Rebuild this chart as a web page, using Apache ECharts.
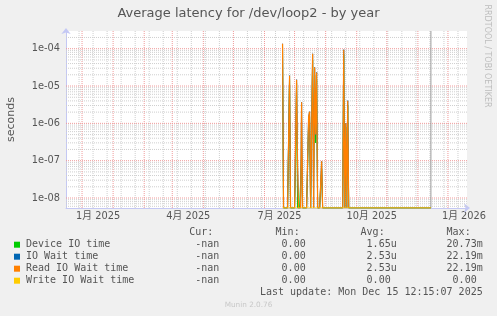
<!DOCTYPE html>
<html><head><meta charset="utf-8">
<script src="https://cdn.jsdelivr.net/npm/echarts@6/dist/echarts.min.js"></script>
<style>html,body{margin:0;padding:0;background:#f0f0f0;}#c{width:497px;height:316px;}</style>
</head><body><div id="c"></div>
<script>
// ---------- data ----------
const chartTitle = 'Average latency for /dev/loop2 - by year';
const yAxisName = 'seconds';
const startDate = '2024-11-15';
const dayCount = 401;
const dataStart = '2025-06-19';
const dataEnd = '2025-11-14';
const ruleDate = '2025-11-14';
const spikeDates = ['2025-06-19','2025-06-26','2025-07-02','2025-07-03','2025-07-04','2025-07-08','2025-07-15','2025-07-16','2025-07-19','2025-07-20','2025-07-21','2025-07-22','2025-07-23','2025-07-28','2025-08-19','2025-08-20','2025-08-21','2025-08-22','2025-08-23'];
const deviceTime = [1.1e-4,1.5e-5,7.8e-8,1.2e-5,0,1.3e-7,1.0e-6,1.5e-6,5.0e-5,6.5e-8,2.0e-5,3.0e-7,1.5e-5,6.0e-8,7.0e-5,0,8.0e-7,0,3.0e-6];
const ioWait     = [1.36e-4,1.89e-5,0,1.48e-5,7.1e-8,3.7e-6,1.5e-6,2.05e-6,7.3e-5,0,3.16e-5,5.0e-7,2.32e-5,9.6e-8,9.4e-5,0,1.0e-6,0,4.05e-6];
const readWait   = [1.36e-4,1.89e-5,0,1.48e-5,7.1e-8,3.7e-6,1.5e-6,2.05e-6,7.3e-5,0,3.16e-5,5.0e-7,2.32e-5,9.6e-8,9.4e-5,0,1.0e-6,0,4.05e-6];
const writeWait  = [0,0,0,0,0,0,0,0,0,0,0,0,0,0,0,0,0,0,0];
const seriesNames = ['Device IO time','IO Wait time','Read IO Wait time','Write IO Wait time'];
const seriesColors = ['#00cc00','#0066b3','#ff8000','#ffcc00'];
const statCur = ['-nan','-nan','-nan','-nan'];
const statMin = ['0.00 ','0.00 ','0.00 ','0.00 '];
const statAvg = ['1.65u','2.53u','2.53u','0.00 '];
const statMax = ['20.73m','22.19m','22.19m','0.00 '];
const statHeaders = ['Cur:  ','Min:  ','Avg:  ','Max:  '];
const yTicks = [1e-8,1e-7,1e-6,1e-5,1e-4];
const yTickLabels = ['1e-08','1e-07','1e-06','1e-05','1e-04'];
const yMinorFactors = [2,3,4,5,6,7,8,9];
const yMin = 5.4e-9, yMax = 2.98e-4;
const xLabelAt = ['2024-12-17','2025-03-17','2025-06-16','2025-09-16','2025-12-17'];
const xTickLabels = ['1月 2025','4月 2025','7月 2025','10月 2025','1月 2026'];
const lastUpdate = 'Last update: Mon Dec 15 12:15:07 2025';
const footer = 'Munin 2.0.76';
const sideText = 'RRDTOOL / TOBI OETIKER';

// ---------- build ----------
const DAY = 86400000;
const t0 = Date.parse(startDate + 'T00:00:00Z');
const days = [];
for (let i = 0; i < dayCount; i++) days.push(new Date(t0 + i * DAY).toISOString().slice(0, 10));
const iStart = days.indexOf(dataStart), iEnd = days.indexOf(dataEnd);
function build(values) {
  const out = days.map((d, i) => (i >= iStart && i <= iEnd) ? yMin : null);
  spikeDates.forEach((d, k) => { const i = days.indexOf(d); if (values[k] > 0) out[i] = values[k]; });
  return out;
}
const seriesValues = [deviceTime, ioWait, readWait, writeWait];
const refT0 = Date.parse('2024-12-26T00:00:00Z');
const isMonthStart = v => v.slice(8) === '01';
const isBiWeek = v => { const d = Math.round((Date.parse(v + 'T00:00:00Z') - refT0) / DAY); return ((d % 14) + 14) % 14 === 0; };

const FONT = 'DejaVu Sans, Noto Sans CJK SC, sans-serif';
const MONO = 'DejaVu Sans Mono, monospace';
const TXT = '#555';
const AXC = '#c4c8f4';

// grid lines as line series through the axes' own scales
const majorPts = [], minorPts = [];
const first = days[0], last = days[days.length - 1];
days.forEach(v => {
  const tgt = isMonthStart(v) ? majorPts : (isBiWeek(v) ? minorPts : null);
  if (tgt) tgt.push([v, yMin], [v, yMax], [v, '-']);
});
[1e-9].concat(yTicks).forEach(p => {
  if (p >= yMin && p <= yMax) majorPts.push([first, p], [last, p], [last, '-']);
  yMinorFactors.forEach(m => { const v = p * m; if (v > yMin && v < yMax) minorPts.push([first, v], [last, v], [last, '-']); });
});
const rulePts = [[ruleDate, yMin], [ruleDate, yMax]];
function gridSeries(pts, color, type, z) {
  return { type: 'line', data: pts, z: z, silent: true, showSymbol: false, symbol: 'none', connectNulls: false,
    animation: false, lineStyle: { color: color, type: type, width: 1 }, emphasis: { disabled: true } };
}
const series = [
  gridSeries(minorPts, '#cfcfcf', [1, 1], 1),
  gridSeries(majorPts, '#f09a9a', [1, 1], 2),
  gridSeries(rulePts, '#9a9a9a', 'solid', 3)
];
seriesNames.forEach((n, k) => series.push({
  name: n, type: 'line', data: build(seriesValues[k]), showSymbol: false, symbol: 'none', z: 10 + k,
  lineStyle: { width: k === 2 ? 1.2 : 1, color: seriesColors[k] }, itemStyle: { color: seriesColors[k] },
  animation: false, connectNulls: false, emphasis: { disabled: true }
}));

const graphic = [];
const rowY = [244.7, 256.7, 268.7, 280.7];
const colRight = [225.3, 311.7, 396.7, 482.7];
const mkText = (x, y, text, align, font, fill, extra) => Object.assign({
  type: 'text', x: x, y: y, silent: true,
  style: { text: text, font: font, fill: fill, align: align, textAlign: align, verticalAlign: 'middle', textVerticalAlign: 'middle' }
}, extra || {});
statHeaders.forEach((h, c) => graphic.push(mkText(colRight[c], 232.3, h, 'right', '10px ' + MONO, TXT)));
seriesNames.forEach((n, r) => {
  graphic.push({ type: 'rect', shape: { x: 14, y: rowY[r] - 3, width: 6, height: 6 }, style: { fill: seriesColors[r] }, silent: true });
  graphic.push(mkText(26, rowY[r], n, 'left', '10px ' + MONO, TXT));
  [statCur, statMin, statAvg, statMax].forEach((arr, c) => graphic.push(mkText(colRight[c], rowY[r], (c === 0 ? arr[r] + ' ' : arr[r]), 'right', '10px ' + MONO, TXT)));
});
graphic.push(mkText(482.7, 292.7, lastUpdate, 'right', '10px ' + MONO, TXT));
graphic.push(mkText(248.5, 305.5, footer, 'center', '7.3px ' + FONT, '#c8c8c8'));
graphic.push(mkText(487, 56, sideText, 'center', '8px ' + FONT, '#bdbdbd', { rotation: -Math.PI / 2 }));

const chart = echarts.init(document.getElementById('c'), null, { renderer: 'canvas' });
chart.setOption({
  backgroundColor: '#f0f0f0',
  animation: false,
  title: { text: chartTitle, left: 'center', top: 2, textStyle: { fontFamily: FONT, fontSize: 13, fontWeight: 'normal', color: TXT } },
  grid: { left: 66, top: 31, right: 30, bottom: 108, show: true, backgroundColor: '#ffffff', borderWidth: 0, containLabel: false, outerBoundsMode: 'none' },
  xAxis: {
    type: 'category', data: days, boundaryGap: false, position: 'bottom',
    axisLine: { show: true, lineStyle: { color: AXC, width: 1 }, symbol: ['none', 'arrow'], symbolSize: [7, 6], symbolOffset: [0, 3] },
    axisTick: { show: false },
    axisLabel: { interval: (i, v) => xLabelAt.indexOf(v) >= 0, formatter: v => xTickLabels[xLabelAt.indexOf(v)] || '', margin: 4, fontFamily: FONT, fontSize: 9.8, color: TXT, hideOverlap: false },
    splitLine: { show: false }
  },
  yAxis: {
    type: 'log', logBase: 10, min: yMin, max: yMax,
    name: yAxisName, nameLocation: 'middle', nameRotate: 90, nameGap: 49,
    nameTextStyle: { fontFamily: FONT, fontSize: 11, color: TXT },
    axisLine: { show: true, lineStyle: { color: AXC, width: 1 }, symbol: ['none', 'arrow'], symbolSize: [7, 6], symbolOffset: [0, 3] },
    axisTick: { show: false }, splitLine: { show: false },
    axisLabel: { margin: 6, fontFamily: FONT, fontSize: 9.8, color: TXT, showMinLabel: false, showMaxLabel: false,
      formatter: v => { const e = Math.log10(v); const r = Math.round(e); if (Math.abs(e - r) > 1e-6) return ''; const k = yTicks.findIndex(t => Math.abs(Math.log10(t) - r) < 1e-6); return k >= 0 ? yTickLabels[k] : ''; } }
  },
  series: series,
  graphic: graphic
});
</script></body></html>
